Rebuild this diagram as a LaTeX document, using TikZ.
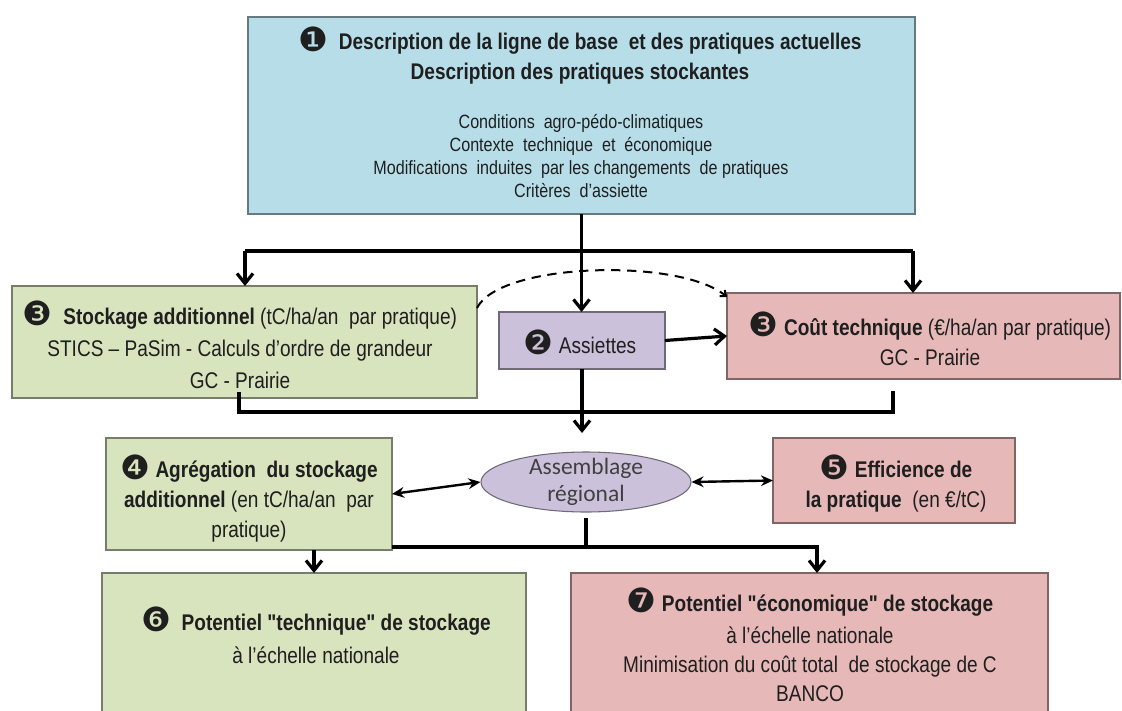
\documentclass[tikz,border=0pt]{standalone}
\usepackage{fontspec}
\setmainfont{Liberation Sans}[FakeStretch=0.84, Ligatures=TeXOff]
\newfontfamily\dingf{DejaVu Sans}
\newfontfamily\calf{Carlito}
\usetikzlibrary{arrows.meta,shapes.geometric}
\definecolor{bluefill}{HTML}{B7DEE8}
\definecolor{greenfill}{HTML}{D7E4BD}
\definecolor{pinkfill}{HTML}{E6B9B8}
\definecolor{purplefill}{HTML}{CCC1DA}
\newcommand\cnum[1]{\smash{\raisebox{-1.2pt}{\dingf\fontsize{25}{25}\selectfont #1}}}
\begin{document}
\begin{tikzpicture}[x=0.75pt,y=-0.75pt,
  boxs/.style={rectangle, draw=#1!55!black, fill=#1, line width=0.8pt, inner sep=0pt, outer sep=0pt, anchor=north west},
  txt/.style={align=center, inner sep=0pt, text=black!88, font=\fontsize{17}{22.5}\selectfont},
  conn/.style={line width=2.4pt, black},
  arr/.style={-{Straight Barb[length=7.5pt,width=12pt]}},
  dbl/.style={line width=1.8pt, {Stealth[length=9pt,width=8pt]}-{Stealth[length=9pt,width=8pt]}},
  dashc/.style={line width=1.5pt, dash pattern=on 7pt off 5pt, -{Straight Barb[length=3.5pt,width=6pt]}}
]
\useasboundingbox (0,0) rectangle (1122,711);
\fill[white] (0,0) rectangle (1122,711);
\clip (0,0) rectangle (1122,711);

% boxes
\node[boxs=bluefill, minimum width=500.25pt, minimum height=147.75pt] (b1) at (248,17) {};
\node[boxs=greenfill, minimum width=348.75pt, minimum height=84pt] (b3l) at (12,286) {};
\node[boxs=purplefill, minimum width=124.5pt, minimum height=42.75pt] (b2) at (499,312) {};
\node[boxs=pinkfill, minimum width=294.75pt, minimum height=64.5pt] (b3r) at (727,293) {};
\node[boxs=greenfill, minimum width=214.5pt, minimum height=84pt] (b4) at (106,438) {};
\node[ellipse, draw=purplefill!55!black, fill=purplefill, line width=0.8pt, minimum width=157.5pt, minimum height=45pt, inner sep=0pt] (ell) at (586,482) {};
\node[boxs=pinkfill, minimum width=181.5pt, minimum height=63.75pt] (b5) at (773,438) {};
\node[boxs=greenfill, minimum width=318pt, minimum height=110.25pt] (b6) at (102,573) {};
\node[boxs=pinkfill, minimum width=357.75pt, minimum height=110.25pt] (b7) at (571,573) {};

% texts
\node[txt] (t1) at (580,59) {\cnum{❶}\ \ \textbf{Description de la ligne de base\ \ et des pratiques actuelles}\\\textbf{Description des pratiques stockantes}};
\node[txt, font=\fontsize{14.4}{17.25}\selectfont] (t1b) at (581,156.5) {Conditions\ \ agro-pédo-climatiques\\Contexte\ \ technique\ \ et\ \ économique\\Modifications\ \ induites\ \ par les changements\ \ de pratiques\\Critères\ \ d’assiette};
\node[txt, font=\fontsize{17}{24}\selectfont] (t3l) at (240,348) {\cnum{❸}\ \ \textbf{Stockage additionnel} (tC/ha/an\ \ par pratique)\\STICS – PaSim - Calculs d’ordre de grandeur\\GC - Prairie};
\node[txt] (t2) at (580,345) {\cnum{❷} Assiettes};
\node[txt] (t3r) at (930,342) {\cnum{❸} \textbf{Coût technique} (€/ha/an par pratique)\\GC - Prairie};
\node[txt] (t4) at (249,502) {\cnum{❹} \textbf{Agrégation\ \ du stockage}\\\textbf{additionnel} (en tC/ha/an\ \ par\\pratique)};
\node[align=center, inner sep=0pt, text=black!75, font=\calf\fontsize{17.6}{20.25}\selectfont] (tell) at (586,481.5) {Assemblage\\régional};
\node[txt] (t5) at (896,487) {\cnum{❺} \textbf{Efficience de}\\\textbf{la pratique}\ \ (en €/tC)};
\node[txt, font=\fontsize{17}{24.75}\selectfont] (t6) at (316,638.5) {\cnum{❻}\ \ \textbf{Potentiel "technique" de stockage}\\à l’échelle nationale};
\node[txt, font=\fontsize{17}{21.75}\selectfont] (t7) at (810,648) {\cnum{❼} \textbf{Potentiel "économique" de stockage}\\[2.5pt]à l’échelle nationale\\Minimisation du coût total\ \ de stockage de C\\BANCO};

% junction coordinates
\coordinate (h1L) at (245,251);
\coordinate (h1R) at (913,251);
\coordinate (c1) at (239,392);
\coordinate (c2) at (239,412);
\coordinate (c3) at (893,412);
\coordinate (c4) at (893,391);
\coordinate (a1) at (585,433);
\coordinate (d1) at (477,308);
\coordinate (d2) at (727,297);
\coordinate (e1) at (586,518);
\coordinate (e2) at (586,547);
\coordinate (f1) at (392,547);
\coordinate (f2) at (817,547);
\coordinate (g1) at (314,550);

% connectors
\draw[conn, arr] (b1.south) -- (b1.south |- b2.north);
\draw[conn] (h1L) -- (h1R);
\draw[conn, arr] (h1L) -- (h1L |- b3l.north);
\draw[conn, arr] (h1R) -- (h1R |- b3r.north);
\draw[conn, arr] (b2.east) -- (b3r.west);
\draw[dashc] (d1) .. controls (500,262) and (680,258) .. (d2);
\draw[conn] (c1) -- (c2) -- (c3) -- (c4);
\draw[conn, arr] (b2.south) -- (b2.south |- a1);
\draw[dbl] (b4.east) -- (ell.west);
\draw[dbl] (ell.east) -- (b5.west);
\draw[conn] (e1) -- (e2);
\draw[conn, arr] (f1) -- (f2) -- (f2 |- b7.north);
\draw[conn, arr] (g1) -- (g1 |- b6.north);
\end{tikzpicture}
\end{document}
